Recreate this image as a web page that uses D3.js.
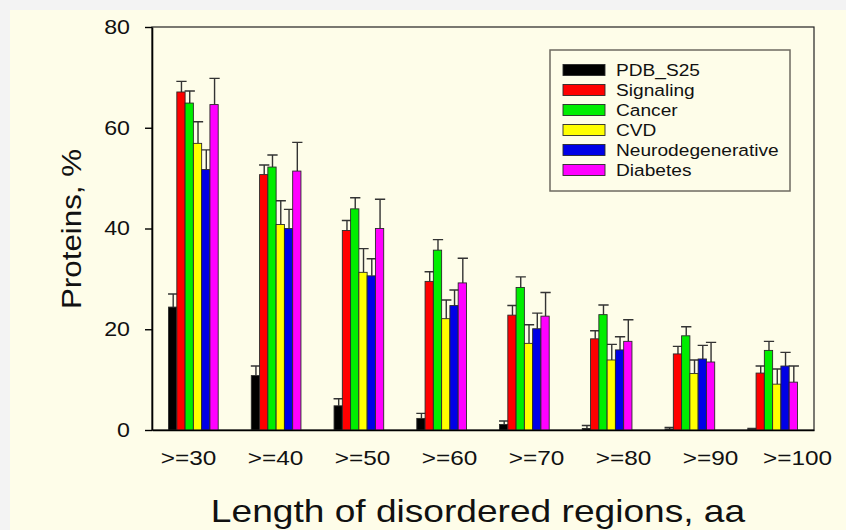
<!DOCTYPE html>
<html>
<head>
<meta charset="utf-8">
<script src="https://cdn.jsdelivr.net/npm/d3@7"></script>
<style>
  body { margin: 0; background: #f3f3f3; }
  svg { display: block; font-family: "Liberation Sans", Arial, sans-serif; }
</style>
</head>
<body>
<div id="chart"></div>
<script>
// 数据
var categories = [">=30", ">=40", ">=50", ">=60", ">=70", ">=80", ">=90", ">=100"];
var seriesNames = ["PDB_S25", "Signaling", "Cancer", "CVD", "Neurodegenerative", "Diabetes"];
var seriesColors = ["#000000", "#ff0000", "#00ee00", "#ffff00", "#0000e6", "#ff00ff"];

var pdbValues = [24.4, 10.8, 4.8, 2.3, 1.1, 0.3, 0.2, 0.1];
var pdbErrors = [2.6, 1.9, 1.4, 1.0, 0.7, 0.6, 0.3, 0.2];
var signalingValues = [67.1, 50.7, 39.6, 29.5, 22.8, 18.1, 15.1, 11.3];
var signalingErrors = [2.1, 1.9, 2.0, 1.9, 1.9, 1.6, 1.5, 1.4];
var cancerValues = [64.9, 52.2, 43.9, 35.7, 28.3, 22.9, 18.7, 15.8];
var cancerErrors = [2.4, 2.4, 2.2, 2.1, 2.1, 1.9, 1.8, 1.8];
var cvdValues = [56.9, 40.8, 31.3, 22.1, 17.2, 13.9, 11.2, 9.1];
var cvdErrors = [4.3, 4.7, 4.7, 3.7, 3.7, 3.1, 2.7, 3.0];
var neuroValues = [51.7, 40.0, 30.6, 24.7, 20.1, 15.9, 14.1, 12.7];
var neuroErrors = [3.9, 3.8, 3.4, 3.1, 3.1, 2.6, 2.7, 2.7];
var diabetesValues = [64.6, 51.4, 40.0, 29.2, 22.6, 17.6, 13.5, 9.5];
var diabetesErrors = [5.2, 5.7, 5.8, 4.9, 4.7, 4.3, 3.9, 3.2];

var yTicks = [0, 20, 40, 60, 80];

var allValues = [pdbValues, signalingValues, cancerValues, cvdValues, neuroValues, diabetesValues];
var allErrors = [pdbErrors, signalingErrors, cancerErrors, cvdErrors, neuroErrors, diabetesErrors];

// 字体横向拉伸（原图字形偏宽）
var sx = 1.16;

var width = 846, height = 530;
var area = { left: 152, right: 814, top: 27, bottom: 430 };

var svg = d3.select("#chart").append("svg")
    .attr("width", width)
    .attr("height", height);

// 背景
svg.append("rect").attr("x", 0).attr("y", 0).attr("width", width).attr("height", height).attr("fill", "#f3f3f3");
svg.append("rect").attr("x", 10).attr("y", 10).attr("width", width - 10).attr("height", height - 10).attr("fill", "#fefde9");

// 比例尺
var x0 = d3.scaleBand().domain(categories)
    .range([area.left, area.right])
    .paddingInner(0.4).paddingOuter(0.2);
var x1 = d3.scaleBand().domain(seriesNames)
    .range([0, x0.bandwidth()]);
var y = d3.scaleLinear().domain([0, 80]).range([area.bottom, area.top]);
// 原图的类别标签间距比柱组略宽
var xLabel = d3.scalePoint().domain(categories).range([188, 797]);

// 数据展开
var rows = [];
categories.forEach(function(c, i) {
    seriesNames.forEach(function(s, j) {
        rows.push({ cat: c, series: s, value: allValues[j][i], err: allErrors[j][i], color: seriesColors[j] });
    });
});

// 边框 (top / right)
svg.append("rect")
    .attr("x", area.left).attr("y", area.top)
    .attr("width", area.right - area.left).attr("height", area.bottom - area.top)
    .attr("fill", "none").attr("stroke", "#222").attr("stroke-width", 1.2);

// error bars
var errG = svg.append("g").attr("class", "errors");
errG.selectAll("path")
    .data(rows)
    .enter()
    .append("path")
    .attr("d", function(d) {
        var cx = x0(d.cat) + x1(d.series) + x1.bandwidth() / 2 + 0.5;
        var half = x1.bandwidth() / 2 + 1;
        var top = y(d.value + d.err);
        return "M" + cx + "," + y(d.value) + "V" + top + "M" + (cx - half) + "," + top + "H" + (cx + half);
    })
    .attr("fill", "none")
    .attr("stroke", "#333")
    .attr("stroke-width", 1.4);

// bars
svg.append("g").attr("class", "bars")
    .selectAll("rect")
    .data(rows)
    .enter()
    .append("rect")
    .attr("x", function(d) { return x0(d.cat) + x1(d.series); })
    .attr("y", function(d) { return y(d.value); })
    .attr("width", x1.bandwidth())
    .attr("height", function(d) { return y(0) - y(d.value); })
    .attr("fill", function(d) { return d.color; })
    .attr("stroke", "#2a2a2a")
    .attr("stroke-width", 0.9);

// y axis
var yAxis = svg.append("g")
    .attr("transform", "translate(" + area.left + ",0)")
    .call(d3.axisLeft(y).tickValues(yTicks).tickSize(7).tickSizeOuter(0).tickPadding(12));
yAxis.select(".domain").attr("stroke", "#000").attr("stroke-width", 1.6);
yAxis.selectAll(".tick line").attr("stroke", "#000").attr("stroke-width", 1.4);
yAxis.selectAll(".tick text")
    .attr("fill", "#111")
    .style("font-size", "20px")
    .style("font-family", "'Liberation Sans', Arial, sans-serif")
    .attr("transform", "scale(" + sx + ",1)");

// x axis line
var xAxis = svg.append("g")
    .attr("transform", "translate(0," + area.bottom + ")")
    .call(d3.axisBottom(x0).tickSize(0).tickSizeOuter(0).tickFormat(""));
xAxis.select(".domain").attr("stroke", "#000").attr("stroke-width", 1.6);

// x labels
var xLabels = svg.append("g")
    .attr("transform", "translate(0," + area.bottom + ")")
    .call(d3.axisBottom(xLabel).tickSize(0).tickPadding(20));
xLabels.select(".domain").remove();
xLabels.selectAll(".tick text")
    .attr("fill", "#111")
    .style("font-size", "21px")
    .style("font-family", "'Liberation Sans', Arial, sans-serif")
    .attr("transform", "scale(" + sx + ",1)");

// axis titles
svg.append("text")
    .attr("transform", "translate(478,522) scale(" + sx + ",1)")
    .attr("text-anchor", "middle")
    .attr("fill", "#111")
    .style("font-size", "32px")
    .text("Length of disordered regions, aa");

svg.append("text")
    .attr("transform", "translate(81,229) rotate(-90) scale(" + sx + ",1)")
    .attr("text-anchor", "middle")
    .attr("fill", "#111")
    .style("font-size", "27px")
    .text("Proteins, %");

// 图例
var legend = svg.append("g").attr("class", "legend");
legend.append("rect")
    .attr("x", 550).attr("y", 50)
    .attr("width", 240).attr("height", 141)
    .attr("fill", "#fefde9")
    .attr("stroke", "#6e6a60")
    .attr("stroke-width", 1.5);

var items = legend.selectAll(".item")
    .data(seriesNames)
    .enter()
    .append("g")
    .attr("class", "item")
    .attr("transform", function(d, i) { return "translate(563," + (70 + i * 20) + ")"; });

items.append("rect")
    .attr("x", 0).attr("y", -5.5)
    .attr("width", 42).attr("height", 11)
    .attr("fill", function(d, i) { return seriesColors[i]; })
    .attr("stroke", "#2a2a2a")
    .attr("stroke-width", 0.9);

items.append("text")
    .attr("transform", "translate(53,6) scale(" + sx + ",1)")
    .attr("fill", "#111")
    .style("font-size", "16.5px")
    .text(function(d) { return d; });
</script>
</body>
</html>
